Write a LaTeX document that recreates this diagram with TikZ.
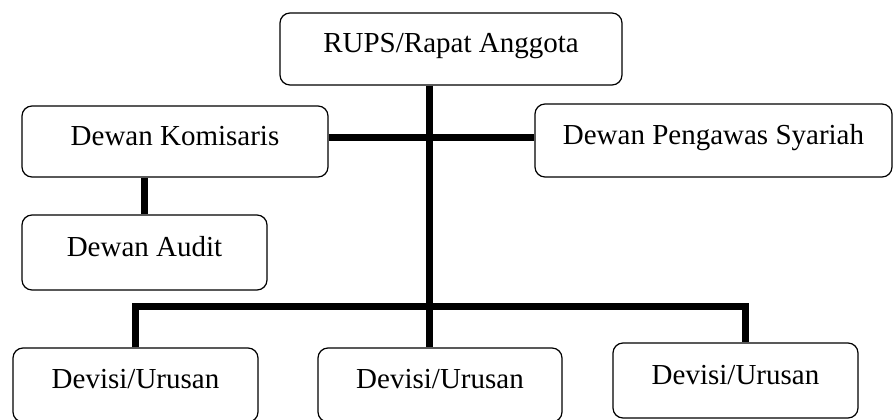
\documentclass[tikz,border=0pt]{standalone}
\usepackage{fontspec}
\setmainfont{Liberation Serif}

\tikzset{
	unit/.style={draw, line width=1.2pt, rounded corners=10pt, fill=white, inner sep=0pt, text height=20pt, text depth=13pt, font=\fontsize{29pt}{34pt}\selectfont},
	link/.style={line width=7pt}
}

\begin{document}
\begin{tikzpicture}[x=1pt, y=-1pt]
	\useasboundingbox (0,0) rectangle (894,420);
	\clip (0,0) rectangle (894,420);

	\node[unit, minimum width=342pt, minimum height=72pt] (rups) at (451,49) {RUPS/Rapat Anggota};
	\node[unit, minimum width=306pt, minimum height=71pt] (kom) at (175,141.5) {Dewan Komisaris};
	\node[unit, minimum width=357pt, minimum height=73pt] (dps) at (713.5,140.5) {Dewan Pengawas Syariah};
	\node[unit, minimum width=245pt, minimum height=75pt] (aud) at (144.5,252.5) {Dewan Audit};
	\node[unit, minimum width=245pt, minimum height=74pt] (div1) at (135.5,385) {Devisi/Urusan};
	\node[unit, minimum width=244pt, minimum height=74pt] (div2) at (440,385) {Devisi/Urusan};
	\node[unit, minimum width=245pt, minimum height=75pt] (div3) at (735.5,380.5) {Devisi/Urusan};

	\coordinate (spine) at ([xshift=-22pt]rups.south);

	\draw[link] (spine) -- (spine |- div2.north);
	\draw[link] ([yshift=4pt]kom.east) -- ([yshift=4pt]kom.east -| dps.west);
	\draw[link] (aud.north) -- (aud.north |- kom.south);
	\draw[link] (div1.north) -- ++(0,-41) -| ([xshift=10pt]div3.north);
\end{tikzpicture}
\end{document}
